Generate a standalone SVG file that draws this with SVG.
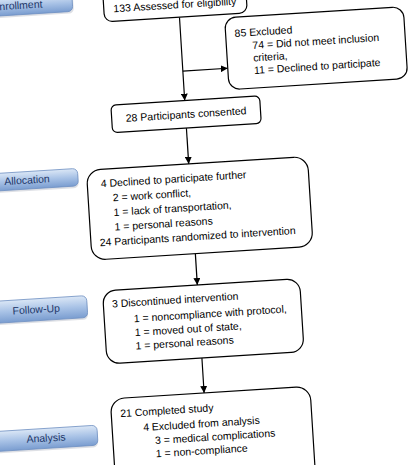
<svg xmlns="http://www.w3.org/2000/svg" width="411" height="465" viewBox="0 0 411 465">
<defs>
<linearGradient id="pill" x1="0" y1="0" x2="0" y2="1">
<stop offset="0" stop-color="#dbe7f6"/>
<stop offset="0.5" stop-color="#a8c2e6"/>
<stop offset="1" stop-color="#7a9dd0"/>
</linearGradient>
<marker id="ah" viewBox="0 0 10 10" refX="10" refY="5" markerWidth="7" markerHeight="7" markerUnits="userSpaceOnUse" orient="auto">
<path d="M0,0 L10,5 L0,10 z" fill="#000"/>
</marker>
</defs>
<style>
.box{fill:#fff;stroke:#000;stroke-width:1.2}
.t{font-family:"Liberation Sans",Arial,Helvetica,sans-serif;font-size:10.5px;fill:#000}
.pl{fill:url(#pill);stroke:#6f90c2;stroke-width:0.8}
.ps{fill:#c8ccd4;opacity:0.6}
.lt{font-family:"Liberation Sans",Arial,Helvetica,sans-serif;font-size:10.5px;fill:#1d3668;text-anchor:middle}
.c{stroke:#000;stroke-width:1.2;fill:none;marker-end:url(#ah)}
</style>
<rect width="411" height="465" fill="#fff"/>
<g transform="rotate(-3.6 205 232)">
<g id="labels">
<g id="lbl-enrollment"><rect class="ps" x="-29" y="-12.5" width="117" height="18" rx="5"/><rect class="pl" x="-30" y="-14.5" width="117" height="18" rx="5"/><text class="lt" x="32" y="-2.3">Enrollment</text></g>
<g id="lbl-allocation"><rect class="ps" x="-29" y="162.5" width="111" height="17.5" rx="5"/><rect class="pl" x="-30" y="160.5" width="111.6" height="17.5" rx="5"/><text class="lt" x="30.6" y="172.6">Allocation</text></g>
<g id="lbl-followup"><rect class="ps" x="-29" y="290" width="112" height="22" rx="5"/><rect class="pl" x="-30" y="288" width="112.7" height="22" rx="5"/><text class="lt" x="31.7" y="302.3">Follow-Up</text></g>
<g id="lbl-analysis"><rect class="ps" x="-29" y="420" width="114" height="20" rx="5"/><rect class="pl" x="-30" y="418" width="114.9" height="20" rx="5"/><text class="lt" x="33.4" y="431.2">Analysis</text></g>
</g>
<g id="connectors">
<line class="c" x1="193" y1="16" x2="193" y2="99.6"/>
<line class="c" x1="193" y1="70" x2="238" y2="70"/>
<line class="c" x1="193" y1="127" x2="193" y2="163"/>
<line class="c" x1="194" y1="253" x2="194" y2="284.4"/>
<line class="c" x1="194" y1="357.6" x2="194" y2="392.6"/>
</g>
<g id="assessed"><rect class="box" x="118" y="-22" width="143" height="38" rx="8"/><text class="t" x="127.6" y="7">133 Assessed for eligibility</text></g>
<g id="excluded"><rect class="box" x="238" y="19.5" width="179" height="72" rx="11"/>
<text class="t" x="247" y="39.2">85 Excluded</text>
<text class="t" x="264" y="52.3">74 = Did not meet inclusion</text>
<text class="t" x="264" y="64.8">criteria,</text>
<text class="t" x="264" y="77.3">11 = Declined to participate</text></g>
<g id="consented"><rect class="box" x="119" y="99.6" width="149" height="27.5" rx="5"/><text class="t" x="193.5" y="117" text-anchor="middle">28 Participants consented</text></g>
<g id="allocation"><rect class="box" x="90.5" y="163" width="221.5" height="90" rx="14"/>
<text class="t" x="104" y="180.8">4 Declined to participate further</text>
<text class="t" x="115" y="195.5">2 = work conflict,</text>
<text class="t" x="115" y="210.2">1 = lack of transportation,</text>
<text class="t" x="115" y="224.9">1 = personal reasons</text>
<text class="t" x="99.3" y="239.6">24 Participants randomized to intervention</text></g>
<g id="followup"><rect class="box" x="99" y="284.4" width="197.4" height="73.2" rx="13"/>
<text class="t" x="107.6" y="301.5">3 Discontinued intervention</text>
<text class="t" x="128.5" y="317.5">1 = noncompliance with protocol,</text>
<text class="t" x="128.5" y="331.5">1 = moved out of state,</text>
<text class="t" x="128.5" y="345">1 = personal reasons</text></g>
<g id="analysis"><rect class="box" x="100" y="392.6" width="200" height="100" rx="14"/>
<text class="t" x="109" y="411.4">21 Completed study</text>
<text class="t" x="131" y="426.8">4 Excluded from analysis</text>
<text class="t" x="142" y="440.5">3 = medical complications</text>
<text class="t" x="142" y="453.8">1 = non-compliance</text></g>
</g>
</svg>
